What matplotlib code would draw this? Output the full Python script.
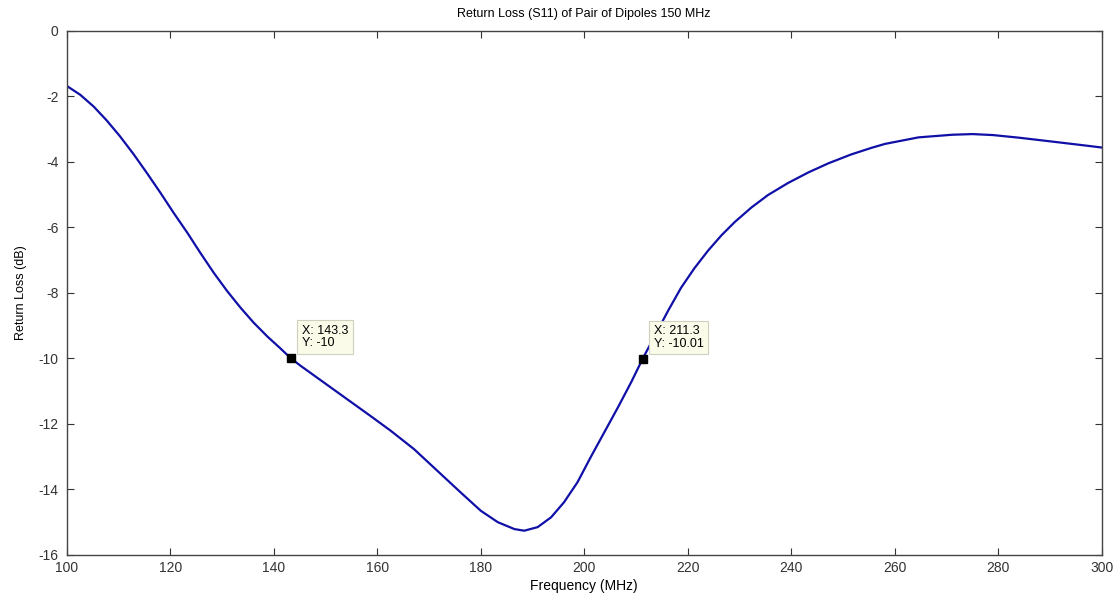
import numpy as np
import matplotlib.pyplot as plt

# values
freq = [100.0, 102.6, 105.2, 107.7, 110.3, 112.9, 115.5, 118.1, 120.6, 123.3,
        125.8, 128.4, 131.0, 133.6, 136.1, 138.8, 141.3, 143.3, 145.2, 149.7,
        154.2, 158.7, 162.6, 167.1, 171.6, 176.1, 180.0, 183.3, 186.5, 188.4,
        191.0, 193.6, 196.1, 198.7, 201.3, 203.9, 206.5, 209.1, 211.3, 216.2,
        218.7, 221.3, 223.9, 226.5, 229.1, 232.3, 235.5, 239.4, 243.3, 247.2,
        251.6, 255.5, 258.1, 264.6, 271.1, 275.0, 279.0, 284.0, 290.5, 296.9, 300.0]
s11 = [-1.69, -1.96, -2.32, -2.74, -3.23, -3.77, -4.35, -4.95, -5.55, -6.17,
       -6.78, -7.39, -7.95, -8.46, -8.91, -9.34, -9.70, -10.0, -10.23, -10.74,
       -11.25, -11.76, -12.21, -12.77, -13.43, -14.09, -14.65, -15.00, -15.21, -15.26,
       -15.15, -14.85, -14.39, -13.78, -13.00, -12.25, -11.50, -10.72, -10.01, -8.55,
       -7.85, -7.25, -6.72, -6.25, -5.84, -5.40, -5.02, -4.65, -4.33, -4.05,
       -3.78, -3.58, -3.46, -3.26, -3.18, -3.16, -3.19, -3.27, -3.39, -3.51, -3.57]

tip_x = [143.3, 211.3]
tip_y = [-10.0, -10.01]
tip_labels = ["X: 143.3\nY: -10", "X: 211.3\nY: -10.01"]

plt.rcParams['font.family'] = ['Liberation Sans', 'DejaVu Sans']
plt.rcParams['axes.unicode_minus'] = False

fig = plt.figure(figsize=(11.2, 5.97), dpi=100)
ax = fig.add_axes([0.0596, 0.0704, 0.9241, 0.8785])

ax.plot(freq, s11, color='#1010a8', linewidth=1.6)

for x, y, lab in zip(tip_x, tip_y, tip_labels):
    ax.plot(x, y, 's', color='black', markersize=6, zorder=5)
    ax.annotate(lab, xy=(x, y), xytext=(11, 9), textcoords='offset pixels',
                ha='left', va='bottom', fontsize=9, linespacing=1.05,
                bbox=dict(boxstyle='square,pad=0.35', fc='#fbfbea', ec='#d0d0c0', lw=0.8),
                zorder=6)

ax.set_xlim(100, 300)
ax.set_ylim(-16, 0)
ax.set_xticks(np.arange(100, 301, 20))
ax.set_yticks(np.arange(-16, 1, 2))
ax.tick_params(direction='in', top=True, right=True, length=5, labelsize=10,
               colors='#333333')
ax.tick_params(axis='x', pad=4)
ax.tick_params(axis='y', pad=6)
for sp in ax.spines.values():
    sp.set_color('#444444')
    sp.set_linewidth(1.0)

ax.set_title("Return Loss (S11) of Pair of Dipoles 150 MHz", fontsize=9, pad=10)
ax.set_xlabel("Frequency (MHz)", fontsize=10, labelpad=3)
ax.set_ylabel("Return Loss (dB)", fontsize=9, labelpad=8)

fig.savefig("out.png", dpi=100)
